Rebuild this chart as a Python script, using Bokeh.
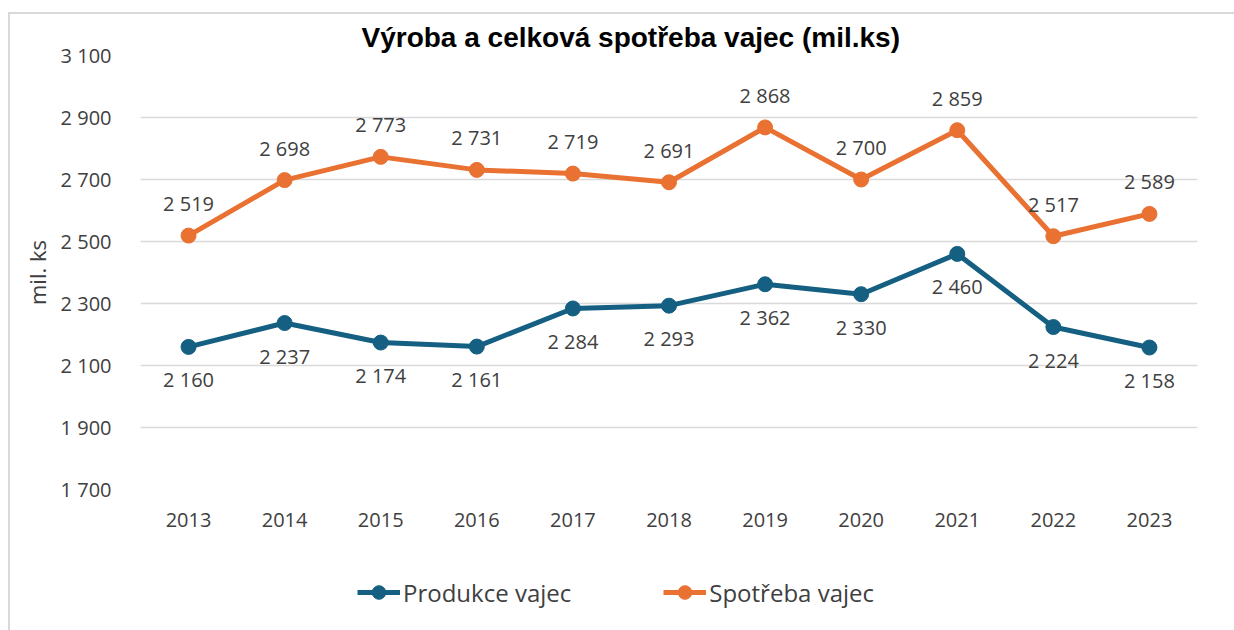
from bokeh.plotting import figure
from bokeh.layouts import column
from bokeh.models import (FactorRange, Range1d, FixedTicker, ColumnDataSource, LabelSet,
                          Legend, LegendItem)
from bokeh.core.properties import value
from bokeh.embed import file_html
from bokeh.resources import INLINE

years = ["2013", "2014", "2015", "2016", "2017", "2018", "2019", "2020", "2021", "2022", "2023"]
produkce = [2160, 2237, 2174, 2161, 2284, 2293, 2362, 2330, 2460, 2224, 2158]
spotreba = [2519, 2698, 2773, 2731, 2719, 2691, 2868, 2700, 2859, 2517, 2589]
y_ticks = [1700, 1900, 2100, 2300, 2500, 2700, 2900, 3100]
title_text = "Výroba a celková spotřeba vajec (mil.ks)"
series_names = ["Produkce vajec", "Spotřeba vajec"]
y_label = "mil. ks"

BLUE = "#156082"
ORANGE = "#E97132"
TXT = "#404040"
GRID = "#d9d9d9"
FONT = "Open Sans"

def fmt(v):
    return f"{v:,}".replace(",", " ")

# ---------------- main chart ----------------
p = figure(width=1234, height=555, x_range=FactorRange(*years),
           y_range=Range1d(1700, 3100), output_backend="svg", toolbar_location=None,
           min_border_left=140, min_border_right=37, min_border_top=55, min_border_bottom=66,
           title=title_text)
p.outline_line_color = None
p.background_fill_color = "white"
p.border_fill_color = None

p.title.text_font = "Liberation Sans"
p.title.text_font_size = "28px"
p.title.text_font_style = "bold"
p.title.text_color = "black"
p.title.align = "left"
p.title.offset = 221
p.title.standoff = 6

p.yaxis.ticker = FixedTicker(ticks=y_ticks)
p.yaxis.major_label_overrides = {t: fmt(t) for t in y_ticks}
for ax in (p.xaxis, p.yaxis):
    ax.axis_line_color = None
    ax.major_tick_line_color = None
    ax.minor_tick_line_color = None
    ax.major_label_text_font = FONT
    ax.major_label_text_font_size = "20px"
    ax.major_label_text_color = TXT
p.yaxis.major_label_standoff = 23
p.xaxis.major_label_standoff = 17
p.yaxis.axis_label = y_label
p.yaxis.axis_label_text_font = FONT
p.yaxis.axis_label_text_font_size = "22px"
p.yaxis.axis_label_text_font_style = "normal"
p.yaxis.axis_label_text_color = TXT
p.yaxis.axis_label_standoff = 6

p.xgrid.grid_line_color = None
p.ygrid.grid_line_color = GRID
p.ygrid.grid_line_width = 1.5

src = ColumnDataSource(dict(x=years, p=produkce, s=spotreba,
                            pl=[fmt(v) for v in produkce], sl=[fmt(v) for v in spotreba]))

p.line("x", "p", source=src, line_color=BLUE, line_width=5)
p.scatter("x", "p", source=src, size=15, fill_color=BLUE, line_color=BLUE)
p.line("x", "s", source=src, line_color=ORANGE, line_width=5)
p.scatter("x", "s", source=src, size=15, fill_color=ORANGE, line_color=ORANGE)

p.add_layout(LabelSet(x="x", y="p", text="pl", source=src, y_offset=-33, text_align="center",
                      text_baseline="middle", text_font=value(FONT), text_font_size="20px",
                      text_color=TXT))
p.add_layout(LabelSet(x="x", y="s", text="sl", source=src, y_offset=32, text_align="center",
                      text_baseline="middle", text_font=value(FONT), text_font_size="20px",
                      text_color=TXT))

# ---------------- legend strip (same series, plotted out of its view) ----------------
q = figure(width=1234, height=75, output_backend="svg", toolbar_location=None,
           x_range=FactorRange(*years), y_range=Range1d(0, 1), min_border=0)
q.axis.visible = False
q.grid.visible = False
q.outline_line_color = None
q.background_fill_color = None
q.border_fill_color = None
r1 = q.line("x", "p", source=src, line_color=BLUE, line_width=5)
s1 = q.scatter("x", "p", source=src, size=15, fill_color=BLUE, line_color=BLUE)
r2 = q.line("x", "s", source=src, line_color=ORANGE, line_width=5)
s2 = q.scatter("x", "s", source=src, size=15, fill_color=ORANGE, line_color=ORANGE)
legend = Legend(items=[LegendItem(label=series_names[0], renderers=[r1, s1]),
                       LegendItem(label=series_names[1], renderers=[r2, s2])],
                orientation="horizontal", location=(217, 21), margin=0, padding=0,
                spacing=92, glyph_width=43, glyph_height=34, label_standoff=3,
                label_text_font=FONT, label_text_font_size="24px", label_text_color=TXT,
                border_line_color=None, background_fill_alpha=0)
q.add_layout(legend, "center")

layout = column(p, q, spacing=0)
layout.styles = {
    "background": ("linear-gradient(#d9d9d9, #d9d9d9) 8px 12px / 2px 100% no-repeat, "
                   "linear-gradient(#d9d9d9, #d9d9d9) 8px 12px / 100% 2px no-repeat, #ffffff"),
}

open("out.html", "w").write(file_html(layout, INLINE))
